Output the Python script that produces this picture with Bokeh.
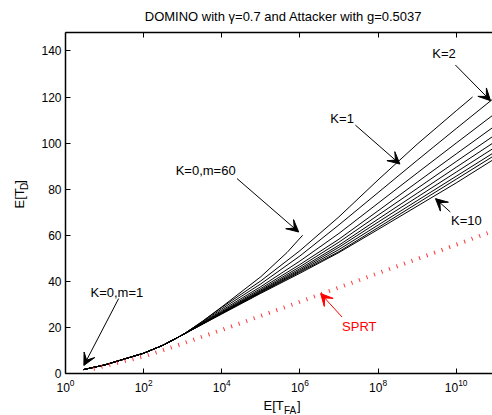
import math
from bokeh.plotting import figure
from bokeh.layouts import column, row
from bokeh.models import (Range1d, LogAxis, FixedTicker, Label, Arrow, VeeHead,
                          CustomJSTickFormatter)
from bokeh.embed import file_html
from bokeh.resources import INLINE

# ---------------- data ----------------
# x values are log10(E[T_FA]), y values are E[T_D]
k0_log_tfa = [0.46, 1.0, 2.0, 2.5, 3.0, 3.5, 4.0, 5.0, 5.67, 6.07]
k0_etd = [1.7, 3.7, 8.8, 12.3, 16.8, 22.6, 28.9, 42.0, 52.5, 60.0]

k1_log_tfa = [0.46, 1.0, 2.0, 2.5, 3.0, 3.5, 4.0, 5.0, 6.0, 7.0, 8.0, 9.0, 10.0, 10.42]
k1_etd = [1.7, 3.7, 8.8, 12.3, 16.8, 22.5, 28.7, 40.2, 53.3, 68.0, 84.0, 99.5, 114.0, 120.0]

k_log_tfa = [0.46, 1.0, 2.0, 2.5, 3.0, 3.5, 4.0, 5.0, 6.0, 7.0, 8.0, 9.0, 10.0, 10.93]
k2_etd = [1.7, 3.7, 8.8, 12.3, 16.8, 22.2, 28.05, 38.9, 51.0, 64.5, 78.5, 92.5, 106.3, 119.0]
k3_etd = [1.7, 3.7, 8.8, 12.3, 16.8, 21.9, 27.4, 37.7, 48.8, 60.8, 73.9, 87.0, 100.0, 112.0]
k4_etd = [1.7, 3.7, 8.8, 12.3, 16.8, 21.8, 26.9, 36.9, 47.3, 58.3, 70.6, 83.0, 95.3, 106.7]
k5_etd = [1.7, 3.7, 8.8, 12.3, 16.8, 21.6, 26.6, 36.3, 46.3, 57.0, 68.7, 80.3, 92.0, 102.8]
k6_etd = [1.7, 3.7, 8.8, 12.3, 16.8, 21.5, 26.4, 35.9, 45.5, 55.7, 67.0, 78.2, 89.5, 99.9]
k7_etd = [1.7, 3.7, 8.8, 12.3, 16.8, 21.5, 26.2, 35.6, 44.9, 54.8, 65.7, 76.5, 87.4, 97.5]
k8_etd = [1.7, 3.7, 8.8, 12.3, 16.8, 21.4, 26.1, 35.3, 44.4, 53.8, 64.4, 75.0, 85.6, 95.5]
k9_etd = [1.7, 3.7, 8.8, 12.3, 16.8, 21.4, 26.0, 35.1, 44.0, 52.9, 63.3, 73.8, 84.3, 94.1]
k10_etd = [1.7, 3.7, 8.8, 12.3, 16.8, 21.3, 25.8, 34.8, 43.5, 52.5, 62.5, 72.6, 82.7, 92.6]

sprt_log_tfa = [0.72, 1.0, 2.0, 2.5, 3.0, 4.0, 5.0, 6.0, 7.0, 8.0, 9.0, 10.0, 10.93]
sprt_etd = [2.0, 3.2, 7.4, 10.1, 13.0, 18.9, 25.0, 31.1, 37.3, 43.5, 49.7, 55.9, 61.7]

x_tick_exponents = [0, 2, 4, 6, 8, 10]
y_ticks = [0, 20, 40, 60, 80, 100, 120, 140]

title_text = "DOMINO with \u03b3=0.7 and Attacker with g=0.5037"

# annotations: (text, log10 x, y)
note_texts = ["K=0,m=1", "K=0,m=60", "K=1", "K=2", "K=10"]
note_log_x = [0.64, 2.82, 6.78, 9.39, 9.87]
note_y = [35.2, 87.9, 110.7, 138.7, 66.3]
# arrows: tail (log x, y) -> tip (log x, y)
arrow_tail_log_x = [1.36, 4.39, 7.42, 9.98, 9.85]
arrow_tail_y = [32.5, 84.6, 107.8, 133.9, 70.1]
arrow_tip_log_x = [0.47, 5.97, 8.56, 10.88, 9.47]
arrow_tip_y = [3.5, 61.4, 90.9, 118.4, 75.9]

sprt_note = ("SPRT", 7.08, 20.5)
sprt_arrow = (7.08, 24.5, 6.53, 34.7)

FONT = "Liberation Sans"


def X(v):
    return 10 ** v


def strip(w, h):
    f = figure(width=w, height=h, x_range=Range1d(0, w), y_range=Range1d(0, h),
               output_backend="svg", toolbar_location=None, min_border=0,
               x_axis_location=None, y_axis_location=None)
    f.outline_line_color = None
    f.grid.visible = False
    f.background_fill_color = "white"
    f.border_fill_color = "white"
    return f


# ---------------- main plot ----------------
p = figure(width=462, height=374, x_axis_type="log",
           x_range=Range1d(1, X(10.93)), y_range=Range1d(0, 148),
           output_backend="svg", toolbar_location=None,
           min_border_left=35, min_border_right=0,
           min_border_top=8, min_border_bottom=25)
p.outline_line_color = None
p.grid.visible = False
p.background_fill_color = "white"
p.border_fill_color = "white"

xt = FixedTicker(ticks=[X(e) for e in x_tick_exponents], minor_ticks=[])
yt = FixedTicker(ticks=y_ticks, minor_ticks=[])
for ax in p.xaxis:
    ax.ticker = xt
for ax in p.yaxis:
    ax.ticker = yt

for ax in list(p.xaxis) + list(p.yaxis):
    ax.major_tick_in = 5
    ax.major_tick_out = 0
    ax.minor_tick_line_color = None
    ax.axis_line_width = 1.5
    ax.major_tick_line_width = 1
    ax.major_label_text_font = FONT
    ax.major_label_text_font_size = "12px"
    ax.major_label_text_color = "black"
p.xaxis.major_label_standoff = 5
p.yaxis.major_label_standoff = 4

top = LogAxis(ticker=FixedTicker(ticks=[X(e) for e in x_tick_exponents], minor_ticks=[]),
              formatter=CustomJSTickFormatter(code="return ''"),
              major_tick_in=5, major_tick_out=0, minor_tick_line_color=None,
              axis_line_width=1.5, major_label_text_font_size="1px",
              major_label_standoff=0)
p.add_layout(top, "above")

# curves
p.line([X(v) for v in k0_log_tfa], k0_etd, line_color="black", line_width=1)
p.line([X(v) for v in k1_log_tfa], k1_etd, line_color="black", line_width=1)
for ys in [k2_etd, k3_etd, k4_etd, k5_etd, k6_etd, k7_etd, k8_etd, k9_etd, k10_etd]:
    p.line([X(v) for v in k_log_tfa], ys, line_color="black", line_width=1)

p.line([X(v) for v in sprt_log_tfa], sprt_etd, line_color="red", line_width=4,
       line_dash="1 7", line_alpha=0.8)

# annotations
for t, lx, ly in zip(note_texts, note_log_x, note_y):
    p.add_layout(Label(x=X(lx), y=ly, text=t, text_font=FONT, text_font_size="13px",
                       text_baseline="middle", text_align="left", text_color="black"))
for tx, ty, hx, hy in zip(arrow_tail_log_x, arrow_tail_y, arrow_tip_log_x, arrow_tip_y):
    p.add_layout(Arrow(end=VeeHead(size=12, fill_color="black", line_color="black", line_width=1),
                       x_start=X(tx), y_start=ty, x_end=X(hx), y_end=hy,
                       line_color="black", line_width=1))

p.add_layout(Label(x=X(sprt_note[1]), y=sprt_note[2], text=sprt_note[0], text_font=FONT,
                   text_font_size="13px", text_baseline="middle", text_align="left",
                   text_color="red"))
p.add_layout(Arrow(end=VeeHead(size=12, fill_color="red", line_color="red", line_width=1),
                   x_start=X(sprt_arrow[0]), y_start=sprt_arrow[1],
                   x_end=X(sprt_arrow[2]), y_end=sprt_arrow[3],
                   line_color="red", line_width=1))

# ---------------- title strip ----------------
t_fig = strip(492, 24)
t_fig.add_layout(Label(x=283, y=8, text=title_text, text_font=FONT, text_font_size="13px",
                       text_align="center", text_baseline="middle", text_color="black"))

# ---------------- y label strip ----------------
y_fig = strip(30, 374)
y_fig.add_layout(Label(x=19, y=181, text="E[T", text_font=FONT, text_font_size="13px",
                       text_align="left", text_baseline="middle", angle=math.pi / 2,
                       text_color="black"))
y_fig.add_layout(Label(x=24, y=201.3, text="D", text_font=FONT, text_font_size="10px",
                       text_align="left", text_baseline="middle", angle=math.pi / 2,
                       text_color="black"))
y_fig.add_layout(Label(x=19, y=208, text="]", text_font=FONT, text_font_size="13px",
                       text_align="left", text_baseline="middle", angle=math.pi / 2,
                       text_color="black"))

# ---------------- x label strip ----------------
x_fig = strip(492, 17)
x_fig.add_layout(Label(x=263, y=10, text="E[T", text_font=FONT, text_font_size="13px",
                       text_align="left", text_baseline="middle", text_color="black"))
x_fig.add_layout(Label(x=283.5, y=5.5, text="FA", text_font=FONT, text_font_size="10px",
                       text_align="left", text_baseline="middle", text_color="black"))
x_fig.add_layout(Label(x=296.5, y=10, text="]", text_font=FONT, text_font_size="13px",
                       text_align="left", text_baseline="middle", text_color="black"))

layout = column(t_fig, row(y_fig, p, spacing=0), x_fig, spacing=0)

open("out.html", "w").write(file_html(layout, INLINE))
